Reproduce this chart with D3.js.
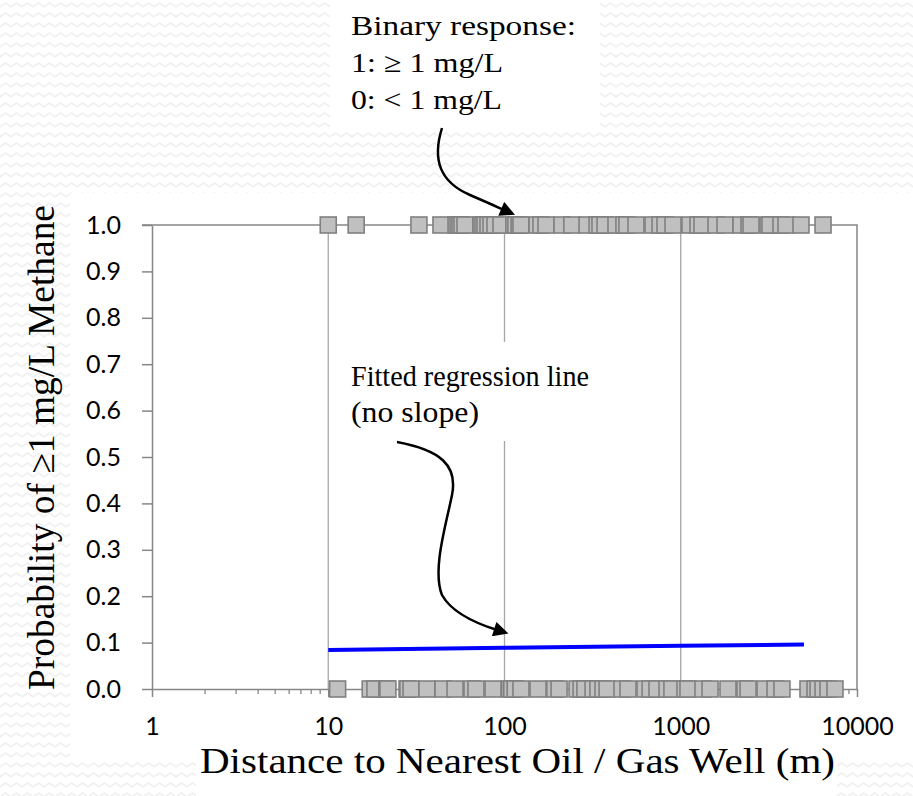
<!DOCTYPE html>
<html>
<head>
<meta charset="utf-8">
<script src="https://cdn.jsdelivr.net/npm/d3@7"></script>
<style>
  body { margin: 0; padding: 0; background: #fff; }
  svg { display: block; }
</style>
</head>
<body>
<svg id="chart" width="913" height="796"></svg>
<script>
// Axis ticks
var xTicks = [1, 10, 100, 1000, 10000];
var yTicks = [0.0, 0.1, 0.2, 0.3, 0.4, 0.5, 0.6, 0.7, 0.8, 0.9, 1.0];

// Wells with methane >= 1 mg/L (response 1), distance in m
var distHigh = [10.0, 14.4, 32.7, 43.6, 53.1, 54.5, 55.9, 57.4, 59.7, 73.6, 75.5, 77.5,
    80.6, 83.8, 88.3, 95.5, 113, 116, 121, 124, 153, 161, 172, 212, 241, 294, 335,
    348, 372, 429, 476, 495, 557, 696, 763, 814, 904, 1128, 1253, 1320, 1585, 1783,
    2198, 2439, 2504, 3128, 3209, 3704, 3955, 4811, 6416];

// Wells with methane < 1 mg/L (response 0)
var distLow = [11.3, 17.3, 18.4, 21.5, 21.8, 28.0, 28.3, 29.5, 36.3, 44.8, 52.4, 65.4,
    68.9, 86.1, 107, 110, 115, 124, 155, 193, 204, 258, 272, 286, 318, 339, 362, 382,
    464, 502, 627, 670, 733, 836, 891, 1057, 1099, 1337, 1466, 1854, 2315, 2409, 3008,
    3427, 3751, 5272, 5778, 6010, 6416, 6846, 7500];

// Fitted logistic regression
var fitDist = [10, 100, 1000, 5000];
var fitProb = [0.084, 0.089, 0.093, 0.096];

var svg = d3.select('#chart');
var W = +svg.attr('width'), H = +svg.attr('height');

// zigzag slide background
var defs = svg.append('defs');
var pat = defs.append('pattern')
    .attr('id', 'zig')
    .attr('patternUnits', 'userSpaceOnUse')
    .attr('width', 11)
    .attr('height', 10);
pat.append('rect').attr('width', 11).attr('height', 10).attr('fill', '#ffffff');
pat.append('path')
    .attr('d', 'M-0.5,7 L5.5,3 L11.5,7')
    .attr('fill', 'none')
    .attr('stroke', '#f0f0f0')
    .attr('stroke-width', 1.6);

svg.append('rect')
    .attr('width', W).attr('height', H)
    .attr('fill', 'url(#zig)');

// chart area + text boxes (white)
svg.append('rect').attr('x', 70).attr('y', 193).attr('width', W - 70).attr('height', 567).attr('fill', '#fff');
svg.append('rect').attr('x', 196).attr('y', 735).attr('width', 641).attr('height', 61).attr('fill', '#fff');
svg.append('rect').attr('x', 330).attr('y', 0).attr('width', 270).attr('height', 128).attr('fill', '#fff');

var x = d3.scaleLog().domain([1, 10000]).range([152, 857]);
var y = d3.scaleLinear().domain([0, 1]).range([689, 225]);

var axisCol = '#868686';
var tickFont = 'Lato, "Liberation Sans", sans-serif';
var serif = '"Liberation Serif", "DejaVu Serif", serif';

// vertical gridlines
svg.append('g')
    .selectAll('line')
    .data(xTicks.slice(1, -1))
    .enter()
    .append('line')
    .attr('x1', d => x(d)).attr('x2', d => x(d))
    .attr('y1', y(1)).attr('y2', y(0))
    .attr('stroke', '#a6a6a6')
    .attr('stroke-width', 1.3);

// top and right border
svg.append('path')
    .attr('d', 'M' + (x(1) - 10) + ',' + y(1) + 'H' + x(10000) + 'V' + y(0))
    .attr('fill', 'none')
    .attr('stroke', axisCol)
    .attr('stroke-width', 1.5);

// minor ticks on log axis
var minor = [];
xTicks.slice(0, -1).forEach(function (d) {
    for (var k = 2; k < 10; k++) minor.push(d * k);
});
svg.append('g')
    .selectAll('line')
    .data(minor)
    .enter()
    .append('line')
    .attr('x1', d => x(d)).attr('x2', d => x(d))
    .attr('y1', y(0)).attr('y2', y(0) + 5)
    .attr('stroke', axisCol)
    .attr('stroke-width', 1.3);

// x axis
var gx = svg.append('g')
    .attr('transform', 'translate(0,' + y(0) + ')')
    .call(d3.axisBottom(x).tickValues(xTicks).tickFormat(d3.format('d')).tickSize(8).tickSizeOuter(0).tickPadding(20));
gx.select('.domain').attr('stroke', axisCol).attr('stroke-width', 1.5);
gx.selectAll('.tick line').attr('stroke', axisCol).attr('stroke-width', 1.5);
gx.selectAll('.tick text')
    .attr('font-family', tickFont)
    .attr('font-size', 25)
    .attr('fill', '#000');

// y axis
var gy = svg.append('g')
    .attr('transform', 'translate(' + x(1) + ',0)')
    .call(d3.axisLeft(y).tickValues(yTicks).tickFormat(d3.format('.1f')).tickSize(10).tickSizeOuter(0).tickPadding(21));
gy.select('.domain').attr('stroke', axisCol).attr('stroke-width', 1.5);
gy.selectAll('.tick line').attr('stroke', axisCol).attr('stroke-width', 1.5);
gy.selectAll('.tick text')
    .attr('font-family', tickFont)
    .attr('font-size', 25)
    .attr('fill', '#000');

// fitted line
var line = d3.line()
    .x((d, i) => x(fitDist[i]))
    .y(d => y(d));
svg.append('path')
    .datum(fitProb)
    .attr('d', line)
    .attr('fill', 'none')
    .attr('stroke', '#0000ff')
    .attr('stroke-width', 4);

// binary responses as squares
var S = 16;
function drawSquares(data, prob) {
    svg.append('g')
        .selectAll('rect')
        .data(data)
        .enter()
        .append('rect')
        .attr('x', d => x(d) - S / 2)
        .attr('y', y(prob) - S / 2)
        .attr('width', S)
        .attr('height', S)
        .attr('fill', '#c0c0c0')
        .attr('stroke', '#808080')
        .attr('stroke-width', 1.6);
}
drawSquares(distLow, 0);
drawSquares(distHigh, 1);

// serif text, stretched to the width it has on the slide
function label(tx, ty, str, size, len, rot) {
    var t = svg.append('text')
        .attr('transform', 'translate(' + tx + ',' + ty + ')' + (rot ? ' rotate(' + rot + ')' : ''))
        .attr('font-family', serif)
        .attr('font-size', size)
        .attr('fill', '#000')
        .text(str);
    if (len) t.attr('textLength', len).attr('lengthAdjust', 'spacingAndGlyphs');
    return t;
}

// axis titles
label(200, 773, 'Distance to Nearest Oil / Gas Well (m)', 36, 635);
label(54, 690, 'Probability of \u22651 mg/L Methane', 37, 485, -90);

// annotations
label(351, 35, 'Binary response:', 28, 225);
label(351, 72, '1:  \u2265 1 mg/L', 28, 152);
label(351, 109, '0: < 1 mg/L', 28, 151);

svg.append('rect').attr('x', 345).attr('y', 342).attr('width', 250).attr('height', 99).attr('fill', '#fff');
label(351, 386, 'Fitted regression line', 29, 238);
label(351, 422, '(no slope)', 29, 128);

// curved arrows
defs.append('marker')
    .attr('id', 'arrow')
    .attr('viewBox', '0 0 10 10')
    .attr('refX', 2).attr('refY', 5)
    .attr('markerWidth', 7).attr('markerHeight', 6)
    .attr('orient', 'auto')
    .append('path')
    .attr('d', 'M0,0 L10,5 L0,10 Z')
    .attr('fill', '#000');

svg.append('path')
    .attr('d', 'M442,128 C432,160 440,182 470,195 S497,207 504,210')
    .attr('fill', 'none')
    .attr('stroke', '#000')
    .attr('stroke-width', 2.5)
    .attr('marker-end', 'url(#arrow)');

svg.append('path')
    .attr('d', 'M397,442 C440,450 458,465 452,495 C446,525 432,570 442,595 C452,613 478,624 497,630')
    .attr('fill', 'none')
    .attr('stroke', '#000')
    .attr('stroke-width', 2.5)
    .attr('marker-end', 'url(#arrow)');
</script>
</body>
</html>
